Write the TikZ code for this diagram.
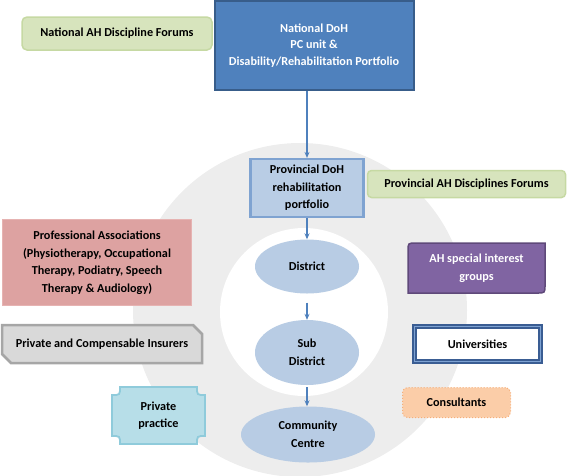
\documentclass[tikz,border=0pt]{standalone}
\usepackage{fontspec}
\setmainfont{Carlito}
\usetikzlibrary{shapes.geometric,arrows.meta}
\definecolor{ringgray}{HTML}{EDEDED}
\definecolor{greenfill}{HTML}{D7E4BD}
\definecolor{greenline}{HTML}{C6D9A3}
\definecolor{doh}{HTML}{4F81BD}
\definecolor{dohline}{HTML}{385D8A}
\definecolor{provfill}{HTML}{B9CDE5}
\definecolor{provline}{HTML}{7FA3D1}
\definecolor{proffill}{HTML}{DDA2A1}
\definecolor{profline}{HTML}{E6B3B2}
\definecolor{purp}{HTML}{8064A2}
\definecolor{purpline}{HTML}{5F497A}
\definecolor{insfill}{HTML}{D9D9D9}
\definecolor{insline}{HTML}{A6A6A6}
\definecolor{unidark}{HTML}{3A5D93}
\definecolor{unilight}{HTML}{7EA2D2}
\definecolor{consfill}{HTML}{FBCDA8}
\definecolor{consline}{HTML}{F6AE78}
\definecolor{privfill}{HTML}{B7DEE8}
\definecolor{privline}{HTML}{8FCBDB}
\definecolor{ellfill}{HTML}{B8CCE4}
\definecolor{arrowc}{HTML}{4F81BD}
\tikzset{
  lbl/.style={font=\fontsize{12.2}{17.5}\selectfont\bfseries, align=center, inner sep=0pt},
  boxr/.style={lbl, rectangle},
  ell/.style={lbl, ellipse, fill=ellfill, draw=none},
  conn/.style={draw=arrowc, line width=1.1pt, -{Stealth[length=6pt,width=5pt]}}
}
\begin{document}
\begin{tikzpicture}[x=1pt,y=-1pt]
\useasboundingbox (0,0) rectangle (569,475);
% background ring
\fill[ringgray] (300,310) circle[radius=167];
\fill[white] (304,312) circle[radius=84];

% National AH Discipline Forums
\node[boxr, minimum width=190pt, minimum height=33pt, fill=greenfill, draw=greenline, line width=1.5pt, rounded corners=5pt] (natf) at (117,33.5) {National AH Discipline Forums};

% National DoH
\node[boxr, minimum width=199pt, minimum height=89pt, fill=doh, draw=dohline, line width=2pt, text=white, font=\fontsize{12.2}{16.5}\selectfont\bfseries] (ndoh) at (314,45.5) {National DoH\\ PC unit \&\\Disability/Rehabilitation Portfolio};

% Provincial DoH
\node[boxr, minimum width=113pt, minimum height=58pt, fill=provfill, draw=provline, line width=2.2pt] (prov) at (307,188) {Provincial DoH\\rehabilitation\\portfolio};

% Provincial AH Disciplines Forums
\node[boxr, minimum width=198pt, minimum height=27pt, fill=greenfill, draw=greenline, line width=1.5pt, rounded corners=4pt] (provf) at (466.5,184) {Provincial AH Disciplines Forums};

% Professional Associations
\node[boxr, minimum width=189pt, minimum height=86pt, fill=proffill, draw=profline, line width=1pt] (prof) at (97,262.5) {Professional Associations\\(Physiotherapy, Occupational\\Therapy, Podiatry, Speech\\Therapy \& Audiology)};

% AH special interest groups (round diagonal corners)
\filldraw[fill=purp, draw=purpline, line width=1.5pt]
  (408,251) .. controls (408,243) .. (416,243) -- (545,243) -- (545,285)
  .. controls (545,293) .. (537,293) -- (408,293) -- cycle;
\node[lbl, text=white] (ahsig) at (476.5,268) {AH special interest\\groups};

% Private and Compensable Insurers (snip diagonal corners)
\filldraw[fill=insfill, draw=insline, line width=2.5pt]
  (2,325) -- (193,325) -- (202,334) -- (202,363) -- (11,363) -- (2,354) -- cycle;
\node[lbl] (insur) at (102,344) {Private and Compensable Insurers};

% Universities
\node[boxr, minimum width=126pt, minimum height=35pt, fill=white, draw=unidark, line width=1.6pt, double=unilight, double distance=1.3pt] (univ) at (477.5,344) {Universities};

% Consultants
\node[boxr, minimum width=108pt, minimum height=30pt, fill=consfill, draw=consline, line width=1pt, dotted, rounded corners=5pt] (cons) at (456.5,402.5) {Consultants};

% Private practice (plaque)
\filldraw[fill=privfill, draw=privline, line width=1.8pt]
  (120,387) -- (197,387) .. controls (197,395) .. (205,395) -- (205,436)
  .. controls (197,436) .. (197,444) -- (120,444) .. controls (120,436) .. (112,436)
  -- (112,395) .. controls (120,395) .. (120,387) -- cycle;
\node[lbl] (priv) at (158.5,415.5) {Private\\practice};

% ellipses
\node[ell, minimum width=104pt, minimum height=54pt] (dist) at (307,266.5) {District};
\node[ell, minimum width=104pt, minimum height=65pt] (sub) at (307,352.5) {Sub\\District};
\node[ell, minimum width=134pt, minimum height=56pt] (comm) at (308,434.5) {Community\\Centre};

% connectors
\draw[conn] (ndoh.south -| prov.north) -- (prov.north);
\draw[conn] (prov.south) -- (dist.north);
\draw[conn, shorten <=9pt] (dist.south) -- (sub.north);
\draw[conn, shorten <=2pt] (sub.south) -- (sub.south |- comm.north);
\end{tikzpicture}
\end{document}
